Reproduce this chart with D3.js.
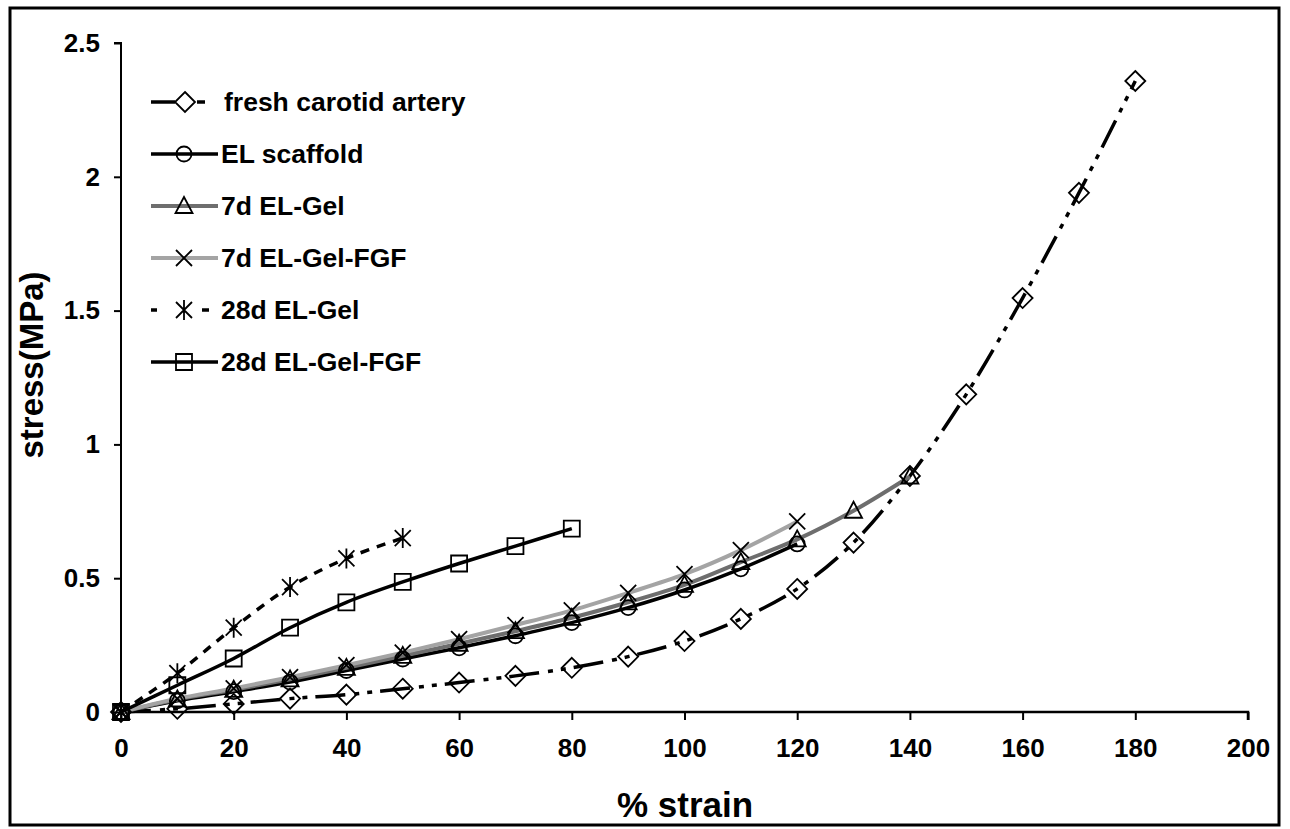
<!DOCTYPE html>
<html>
<head>
<meta charset="utf-8">
<script src="https://cdn.jsdelivr.net/npm/d3@7"></script>
<style>
body { margin: 0; background: #fff; }
svg text { font-family: "Liberation Sans", Arial, sans-serif; font-weight: bold; fill: #000; }
</style>
</head>
<body>
<script>
// data (x = % strain, y = stress in MPa)
var strainFresh = [0, 10, 20, 30, 40, 50, 60, 70, 80, 90, 100, 110, 120, 130, 140, 150, 160, 170, 180]
var stressFresh = [0, 0.012, 0.03, 0.05, 0.065, 0.087, 0.11, 0.135, 0.165, 0.207, 0.265, 0.348, 0.46, 0.633, 0.882, 1.187, 1.547, 1.94, 2.358]

var strainEL = [0, 10, 20, 30, 40, 50, 60, 70, 80, 90, 100, 110, 120]
var stressEL = [0, 0.042, 0.076, 0.112, 0.155, 0.198, 0.24, 0.285, 0.334, 0.39, 0.456, 0.535, 0.628]

var strainGel7 = [0, 10, 20, 30, 40, 50, 60, 70, 80, 90, 100, 110, 120, 130, 140]
var stressGel7 = [0, 0.047, 0.083, 0.122, 0.165, 0.21, 0.255, 0.302, 0.352, 0.41, 0.475, 0.56, 0.645, 0.752, 0.88]

var strainFGF7 = [0, 10, 20, 30, 40, 50, 60, 70, 80, 90, 100, 110, 120]
var stressFGF7 = [0, 0.05, 0.088, 0.13, 0.175, 0.222, 0.272, 0.325, 0.38, 0.445, 0.515, 0.605, 0.712]

var strainGel28 = [0, 10, 20, 30, 40, 50]
var stressGel28 = [0, 0.145, 0.315, 0.467, 0.574, 0.65]

var strainFGF28 = [0, 10, 20, 30, 40, 50, 60, 70, 80]
var stressFGF28 = [0, 0.1, 0.2, 0.315, 0.41, 0.486, 0.555, 0.62, 0.685]

var seriesNames = ["fresh carotid artery", "EL scaffold", "7d EL-Gel", "7d EL-Gel-FGF", "28d EL-Gel", "28d EL-Gel-FGF"]

var xTicks = [0, 20, 40, 60, 80, 100, 120, 140, 160, 180, 200]
var yTicks = [0, 0.5, 1, 1.5, 2, 2.5]

var w = 1290
var h = 829

// marker shapes, centred on 0,0
var markers = {
	diamond: "M0,-10L10,0L0,10L-10,0Z",
	circle: "M7.5,0A7.5,7.5 0 1,1 -7.5,0A7.5,7.5 0 1,1 7.5,0Z",
	triangle: "M0,-9L8.5,7L-8.5,7Z",
	cross: "M-8,-8L8,8M8,-8L-8,8",
	star: "M-8,-8L8,8M8,-8L-8,8M0,-10L0,10",
	square: "M-8,-8H8V8H-8Z"
}

var series = [
	{ name: seriesNames[0], x: strainFresh, y: stressFresh, color: "#000", width: 3.5, dash: "30,9,5,8,5,8", marker: "diamond" },
	{ name: seriesNames[1], x: strainEL, y: stressEL, color: "#000", width: 3.5, dash: null, marker: "circle" },
	{ name: seriesNames[2], x: strainGel7, y: stressGel7, color: "#6e6e6e", width: 4, dash: null, marker: "triangle" },
	{ name: seriesNames[3], x: strainFGF7, y: stressFGF7, color: "#a4a4a4", width: 4, dash: null, marker: "cross" },
	{ name: seriesNames[4], x: strainGel28, y: stressGel28, color: "#000", width: 3.5, dash: "9,8", marker: "star" },
	{ name: seriesNames[5], x: strainFGF28, y: stressFGF28, color: "#000", width: 3.5, dash: null, marker: "square" }
]

function main() {
	var svg = d3.select("body")
		.append("svg")
		.attr("width", w)
		.attr("height", h)

	// frame around the whole figure
	svg.append("rect")
		.attr("x", 10)
		.attr("y", 8)
		.attr("width", 1269)
		.attr("height", 817)
		.attr("fill", "none")
		.attr("stroke", "#000")
		.attr("stroke-width", 3)

	var xScale = d3.scaleLinear()
		.domain([0, 200])
		.range([121, 1248])

	var yScale = d3.scaleLinear()
		.domain([0, 2.5])
		.range([712, 43])

	// Axes
	var xAxis = d3.axisBottom(xScale).tickValues(xTicks).tickSize(8).tickPadding(19)
	var yAxis = d3.axisLeft(yScale).tickValues(yTicks).tickSize(7).tickPadding(14)
		.tickFormat(d3.format("~g"))

	var gx = svg.append("g")
		.attr("transform", "translate(0," + yScale(0) + ")")
		.call(xAxis)
	gx.select(".domain").attr("stroke-width", 2.5).attr("d", "M" + xScale(0) + ",0H" + xScale(200) + "V8")
	gx.selectAll(".tick line").attr("stroke-width", 2)
	gx.selectAll(".tick text").style("font-size", "26px").attr("fill", "#000")

	var gy = svg.append("g")
		.attr("transform", "translate(" + xScale(0) + ",0)")
		.call(yAxis)
	gy.select(".domain").attr("stroke-width", 2).attr("d", "M-7," + yScale(2.5) + "H0V" + yScale(0))
	gy.selectAll(".tick line").attr("stroke-width", 2)
	gy.selectAll(".tick text").style("font-size", "26px").attr("fill", "#000")

	svg.append("text")
		.attr("x", 685)
		.attr("y", 817)
		.style("text-anchor", "middle")
		.style("font-size", "35px")
		.text("% strain")

	svg.append("text")
		.attr("transform", "translate(43,365) rotate(-90)")
		.style("text-anchor", "middle")
		.style("font-size", "33px")
		.text("stress(MPa)")

	// Lines
	var line = d3.line()
		.x((d) => xScale(d[0]))
		.y((d) => yScale(d[1]))
		.curve(d3.curveCatmullRom.alpha(0.5))

	series.forEach(function (s) {
		var pts = s.x.map((x, i) => [x, s.y[i]])
		svg.append("path")
			.datum(pts)
			.attr("d", line)
			.attr("fill", "none")
			.attr("stroke", s.color)
			.attr("stroke-width", s.width)
			.attr("stroke-dasharray", s.dash)
	})

	series.forEach(function (s) {
		var pts = s.x.map((x, i) => [x, s.y[i]])
		svg.append("g")
			.selectAll("path")
			.data(pts)
			.enter()
			.append("path")
			.attr("transform", (d) => "translate(" + xScale(d[0]) + "," + yScale(d[1]) + ")")
			.attr("d", markers[s.marker])
			.attr("fill", "none")
			.attr("stroke", "#000")
			.attr("stroke-width", 1.8)
	})

	// Legend
	var legend = svg.append("g")
	series.forEach(function (s, i) {
		var cy = 102 + i * 52
		var g = legend.append("g").attr("transform", "translate(0," + cy + ")")
		if (s.marker == "diamond") {
			g.append("line").attr("x1", 151).attr("x2", 175).attr("y1", 0).attr("y2", 0)
				.attr("stroke", s.color).attr("stroke-width", 3.5)
			g.append("line").attr("x1", 197).attr("x2", 205).attr("y1", 0).attr("y2", 0)
				.attr("stroke", s.color).attr("stroke-width", 3.5)
		} else if (s.marker == "star") {
			g.append("line").attr("x1", 151).attr("x2", 157).attr("y1", 0).attr("y2", 0)
				.attr("stroke", s.color).attr("stroke-width", 3.5)
			g.append("line").attr("x1", 202).attr("x2", 209).attr("y1", 0).attr("y2", 0)
				.attr("stroke", s.color).attr("stroke-width", 3.5)
		} else {
			g.append("line").attr("x1", 151).attr("x2", 218).attr("y1", 0).attr("y2", 0)
				.attr("stroke", s.color).attr("stroke-width", s.width)
		}
		g.append("path")
			.attr("transform", "translate(" + (s.marker == "diamond" ? 185 : 184) + ",0)")
			.attr("d", markers[s.marker])
			.attr("fill", s.marker == "diamond" ? "#fff" : "none")
			.attr("stroke", "#000")
			.attr("stroke-width", 1.8)
		g.append("text")
			.attr("x", s.marker == "diamond" ? 224 : 221)
			.attr("y", 9)
			.style("font-size", "26.5px")
			.text(s.name)
	})
}

main()
</script>
</body>
</html>
